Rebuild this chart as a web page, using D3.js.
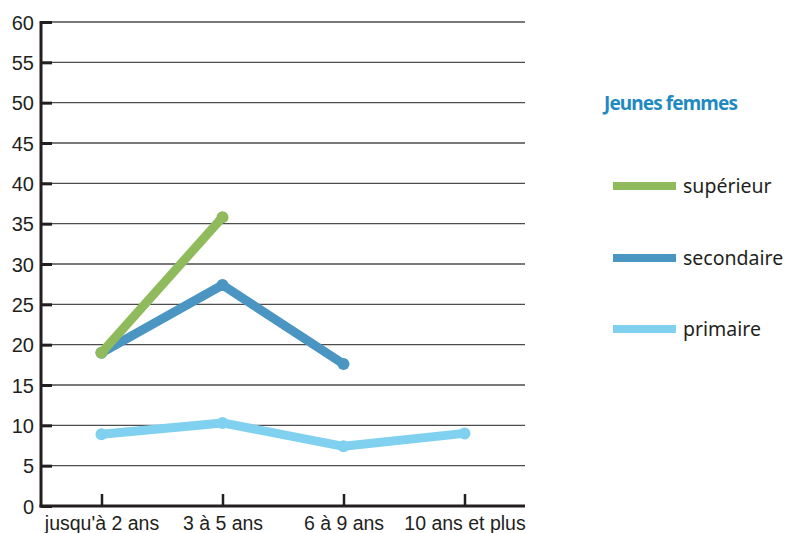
<!DOCTYPE html>
<html lang="fr">
<head>
<meta charset="UTF-8">
<title>Jeunes femmes</title>
<script src="https://d3js.org/d3.v7.min.js"></script>
<style>
  body { margin: 0; background: #fff; }
  svg { display: block; font-family: "Noto Sans", "Open Sans", sans-serif; }
  .tick text { fill: #231f20; }
</style>
</head>
<body>
<svg id="chart" width="786" height="533"></svg>
<script>
const categories = ["jusqu'à 2 ans", "3 à 5 ans", "6 à 9 ans", "10 ans et plus"];
const yTicks = [0, 5, 10, 15, 20, 25, 30, 35, 40, 45, 50, 55, 60];
const seriesNames = ["primaire", "secondaire", "supérieur"];
const primaire = [8.9, 10.3, 7.4, 9.0];
const secondaire = [19.0, 27.4, 17.6, null];
const superieur = [19.0, 35.8, null, null];
const colors = { "supérieur": "#8fbb5d", "secondaire": "#4a95c2", "primaire": "#80d1f0" };

const series = [
  { name: "primaire", values: primaire },
  { name: "secondaire", values: secondaire },
  { name: "supérieur", values: superieur }
];

const svg = d3.select("#chart");
const plotLeft = 41, plotRight = 525, plotTop = 22, plotBottom = 506;

const x = d3.scalePoint().domain(categories).range([plotLeft, plotRight]).padding(0.5);
const y = d3.scaleLinear().domain([0, 60]).range([plotBottom, plotTop]);

// grid lines
svg.append("g")
  .selectAll("line")
  .data(yTicks.filter(d => d > 0))
  .join("line")
  .attr("x1", plotLeft).attr("x2", plotRight)
  .attr("y1", d => y(d)).attr("y2", d => y(d))
  .attr("stroke", "#4d4d4d").attr("stroke-width", 1.3);

// y axis
const yAxis = svg.append("g")
  .attr("transform", `translate(${plotLeft},0)`)
  .call(d3.axisRight(y).tickValues(yTicks).tickSize(11).tickFormat(d3.format("d")));
yAxis.select(".domain").remove();
yAxis.selectAll(".tick line").attr("stroke", "#231f20").attr("stroke-width", 3);
yAxis.selectAll(".tick text")
  .attr("x", -7).attr("text-anchor", "end").attr("dy", "0.36em")
  .style("font-size", "20px");

// x axis
const xAxis = svg.append("g")
  .attr("transform", `translate(0,${plotBottom})`)
  .call(d3.axisTop(x).tickSize(12));
xAxis.select(".domain").remove();
xAxis.selectAll(".tick line").attr("stroke", "#231f20").attr("stroke-width", 2.5);
xAxis.selectAll(".tick text")
  .attr("y", 24).attr("dy", 0)
  .style("font-size", "19.5px");

// axis lines
svg.append("line")
  .attr("x1", plotLeft).attr("x2", plotLeft).attr("y1", plotTop - 1).attr("y2", plotBottom + 1.5)
  .attr("stroke", "#231f20").attr("stroke-width", 3);
svg.append("line")
  .attr("x1", plotLeft - 1.5).attr("x2", plotRight).attr("y1", plotBottom).attr("y2", plotBottom)
  .attr("stroke", "#231f20").attr("stroke-width", 3);

// lines
const line = d3.line()
  .defined(d => d.v != null)
  .x(d => x(d.c))
  .y(d => y(d.v));

series.forEach(s => {
  const pts = s.values.map((v, i) => ({ c: categories[i], v }));
  svg.append("path")
    .datum(pts)
    .attr("d", line)
    .attr("fill", "none")
    .attr("stroke", colors[s.name])
    .attr("stroke-width", 9)
    .attr("stroke-linejoin", "round");
  svg.append("g")
    .selectAll("circle")
    .data(pts.filter(d => d.v != null))
    .join("circle")
    .attr("cx", d => x(d.c))
    .attr("cy", d => y(d.v))
    .attr("r", 6)
    .attr("fill", colors[s.name]);
});

// legend
svg.append("text")
  .attr("x", 604).attr("y", 110)
  .attr("fill", "#1f8ac0")
  .style("font-size", "19px").style("font-weight", "bold").style("letter-spacing", "-0.9px")
  .text("Jeunes femmes");

const legendRows = [
  { name: "supérieur", y: 186 },
  { name: "secondaire", y: 258 },
  { name: "primaire", y: 329 }
];
const lg = svg.append("g").selectAll("g").data(legendRows).join("g");
lg.append("line")
  .attr("x1", 613).attr("x2", 676)
  .attr("y1", d => d.y).attr("y2", d => d.y)
  .attr("stroke", d => colors[d.name]).attr("stroke-width", 8);
lg.append("text")
  .attr("x", 683).attr("y", d => d.y).attr("dy", "0.35em")
  .attr("fill", "#231f20")
  .style("font-size", "19.5px")
  .text(d => d.name);
</script>
</body>
</html>
